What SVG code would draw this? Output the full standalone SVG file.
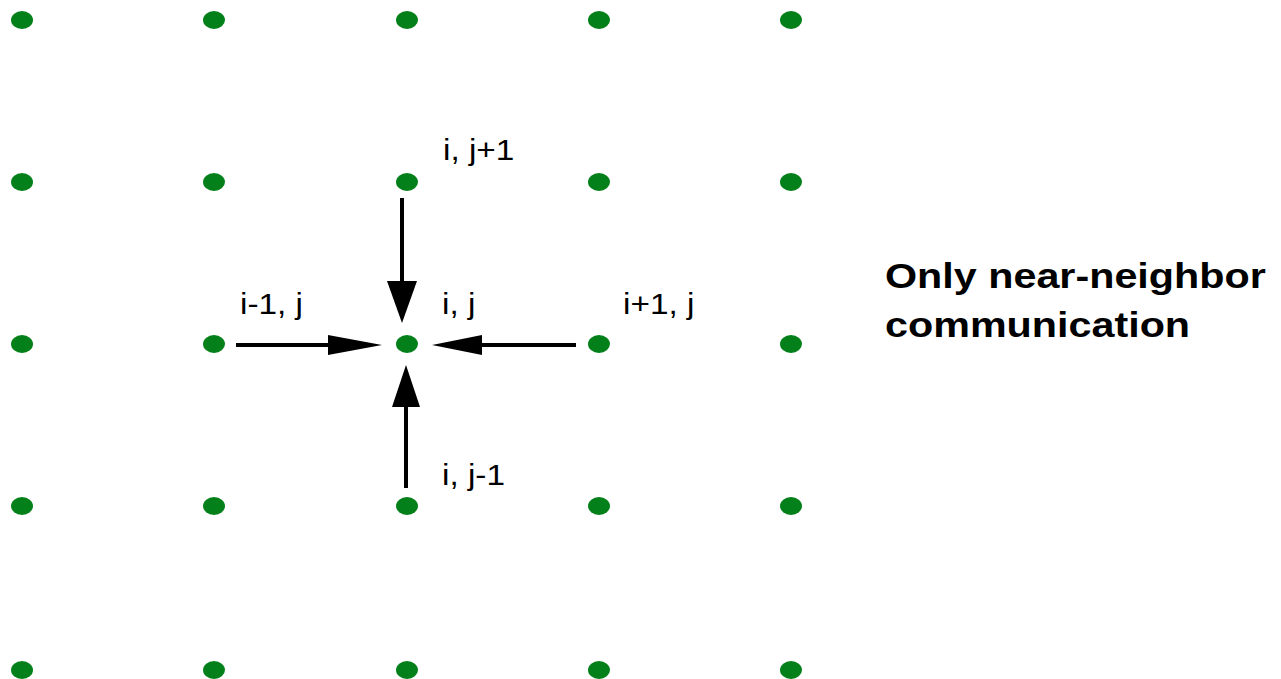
<svg xmlns="http://www.w3.org/2000/svg" width="1281" height="679" viewBox="0 0 1281 679">
  <style>
    .dot { fill: #04801a; }
    .lbl { font-family: "Liberation Sans", Arial, sans-serif; font-size: 29px; fill: #000; }
    .title { font-family: "Liberation Sans", Arial, sans-serif; font-size: 35px; font-weight: bold; fill: #000; }
    .shaft { stroke: #000; stroke-width: 4; fill: none; }
    .head { fill: #000; }
  </style>
  <defs>
    <ellipse id="pt" class="dot" cx="0" cy="0" rx="11" ry="9"/>
  </defs>
  <rect width="1281" height="679" fill="#fff"/>

  <!-- lattice points: columns 22,214,407,599,791 / rows 20,182,344,506,670 -->
  <g id="n-r0c0"><use href="#pt" x="22" y="20"/></g>
  <g id="n-r0c1"><use href="#pt" x="214" y="20"/></g>
  <g id="n-r0c2"><use href="#pt" x="407" y="20"/></g>
  <g id="n-r0c3"><use href="#pt" x="599" y="20"/></g>
  <g id="n-r0c4"><use href="#pt" x="791" y="20"/></g>

  <g id="n-r1c0"><use href="#pt" x="22" y="182"/></g>
  <g id="n-r1c1"><use href="#pt" x="214" y="182"/></g>
  <g id="n-i-jp1"><use href="#pt" x="407" y="182"/>
    <text class="lbl" transform="translate(443,160) scale(1.15,1)">i, j+1</text></g>
  <g id="n-r1c3"><use href="#pt" x="599" y="182"/></g>
  <g id="n-r1c4"><use href="#pt" x="791" y="182"/></g>

  <g id="n-r2c0"><use href="#pt" x="22" y="344"/></g>
  <g id="n-im1-j"><use href="#pt" x="214" y="344"/>
    <text class="lbl" transform="translate(240,314) scale(1.15,1)">i-1, j</text></g>
  <g id="n-i-j"><use href="#pt" x="407" y="344"/>
    <text class="lbl" transform="translate(442,314) scale(1.15,1)">i, j</text></g>
  <g id="n-ip1-j"><use href="#pt" x="599" y="344"/>
    <text class="lbl" transform="translate(623,314) scale(1.15,1)">i+1, j</text></g>
  <g id="n-r2c4"><use href="#pt" x="791" y="344"/></g>

  <g id="n-r3c0"><use href="#pt" x="22" y="506"/></g>
  <g id="n-r3c1"><use href="#pt" x="214" y="506"/></g>
  <g id="n-i-jm1"><use href="#pt" x="407" y="506"/>
    <text class="lbl" transform="translate(442,485) scale(1.15,1)">i, j-1</text></g>
  <g id="n-r3c3"><use href="#pt" x="599" y="506"/></g>
  <g id="n-r3c4"><use href="#pt" x="791" y="506"/></g>

  <g id="n-r4c0"><use href="#pt" x="22" y="670"/></g>
  <g id="n-r4c1"><use href="#pt" x="214" y="670"/></g>
  <g id="n-r4c2"><use href="#pt" x="407" y="670"/></g>
  <g id="n-r4c3"><use href="#pt" x="599" y="670"/></g>
  <g id="n-r4c4"><use href="#pt" x="791" y="670"/></g>

  <!-- neighbour-to-centre links -->
  <g id="connectors">
    <g id="e-top">
      <line class="shaft" x1="402" y1="198" x2="402" y2="284"/>
      <polygon class="head" points="387,281 417,281 402,323"/>
    </g>
    <g id="e-bottom">
      <line class="shaft" x1="406" y1="488" x2="406" y2="404"/>
      <polygon class="head" points="392,407 420,407 406,365"/>
    </g>
    <g id="e-left">
      <line class="shaft" x1="236" y1="345" x2="331" y2="345"/>
      <polygon class="head" points="328,335 328,355 382,345"/>
    </g>
    <g id="e-right">
      <line class="shaft" x1="576" y1="345" x2="479" y2="345"/>
      <polygon class="head" points="482,335 482,355 432,345"/>
    </g>
  </g>

  <g id="caption">
    <text class="title" transform="translate(885,288) scale(1.18,1)">Only near-neighbor</text>
    <text class="title" transform="translate(885,337) scale(1.18,1)">communication</text>
  </g>
</svg>
